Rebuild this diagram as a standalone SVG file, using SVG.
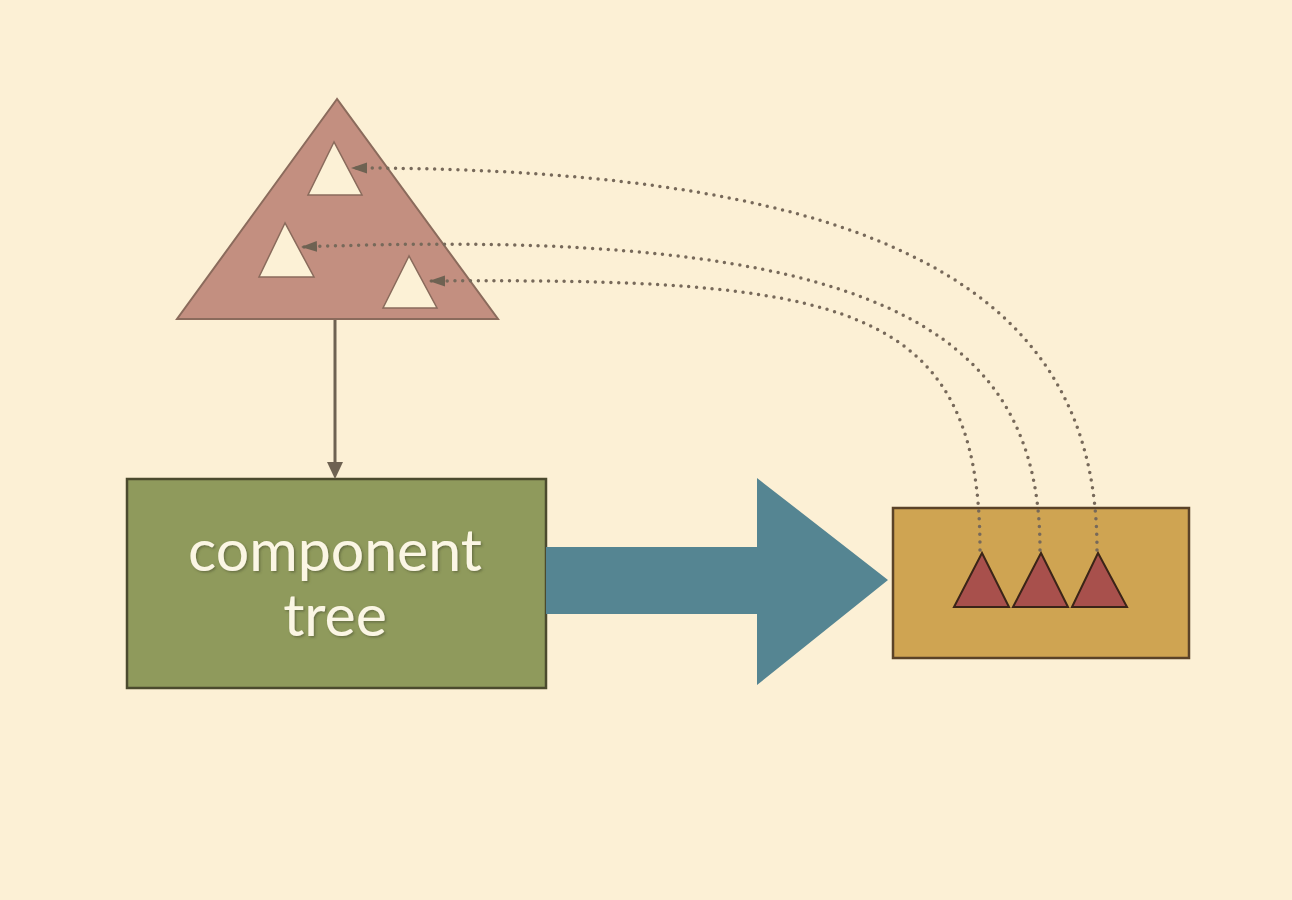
<svg xmlns="http://www.w3.org/2000/svg" width="1292" height="900" viewBox="0 0 1292 900">
<style>
.dot{fill:none;stroke:#77695a;stroke-width:3.5;stroke-linecap:round;stroke-dasharray:0 7.8}
.hole{fill:#fcf1d6;stroke:#8a6b5c;stroke-width:1.5}
.mini{fill:#a8504c;stroke:#3b2418;stroke-width:2}
.lbl{font-family:Lato,"Open Sans",sans-serif;font-size:59px;text-anchor:middle;fill:#fbf6e4;filter:url(#ts)}
</style>
<defs>
<filter id="ts" x="-10%" y="-20%" width="120%" height="140%">
<feDropShadow dx="1.5" dy="1.5" stdDeviation="1" flood-color="#4f5630" flood-opacity="0.6"/>
</filter>
<marker id="dh" viewBox="0 0 16 12" refX="15" refY="6" markerWidth="16" markerHeight="12" orient="auto" markerUnits="userSpaceOnUse">
<path d="M0,0.5 L16,6 L0,11.5 z" fill="#6e6252"/>
</marker>
</defs>
<rect width="1292" height="900" fill="#fcf0d5"/>
<g id="tree-triangle">
<polygon points="337,99 177,319 498,319" fill="#c38f80" stroke="#8b6b5c" stroke-width="2"/>
<polygon class="hole" points="334,142 308,195 362,195"/>
<polygon class="hole" points="285,223 259,277 314,277"/>
<polygon class="hole" points="409,256 383,308 437,308"/>
</g>
<g id="component-tree">
<rect x="127" y="479" width="419" height="209" fill="#8f9a5c" stroke="#4b4a2e" stroke-width="2.5"/>
<text class="lbl" x="335" y="571">component</text>
<text class="lbl" x="335" y="636">tree</text>
</g>
<g id="big-arrow">
<polygon points="546,547 757,547 757,478 888,580 757,685 757,614 546,614" fill="#558592"/>
</g>
<g id="output-box">
<rect x="893" y="508" width="296" height="150" fill="#cfa452" stroke="#5a4228" stroke-width="2.5"/>
<polygon class="mini" points="982,553 954,607 1009,607"/>
<polygon class="mini" points="1041,553 1013,607 1068,607"/>
<polygon class="mini" points="1098,553 1072,607 1127,607"/>
</g>
<g id="connectors">
<line x1="335" y1="320" x2="335" y2="464" stroke="#6e6252" stroke-width="3"/>
<path d="M335,479 L327,462 L343,462 z" fill="#6e6252"/>
<path class="dot" d="M1097,550 C1097,300 900,168 352,168" marker-end="url(#dh)"/>
<path class="dot" d="M1040,550 C1040,330 880,225 302,247" marker-end="url(#dh)"/>
<path class="dot" d="M980,550 C980,300 840,278 430,281" marker-end="url(#dh)"/>
</g>
</svg>
